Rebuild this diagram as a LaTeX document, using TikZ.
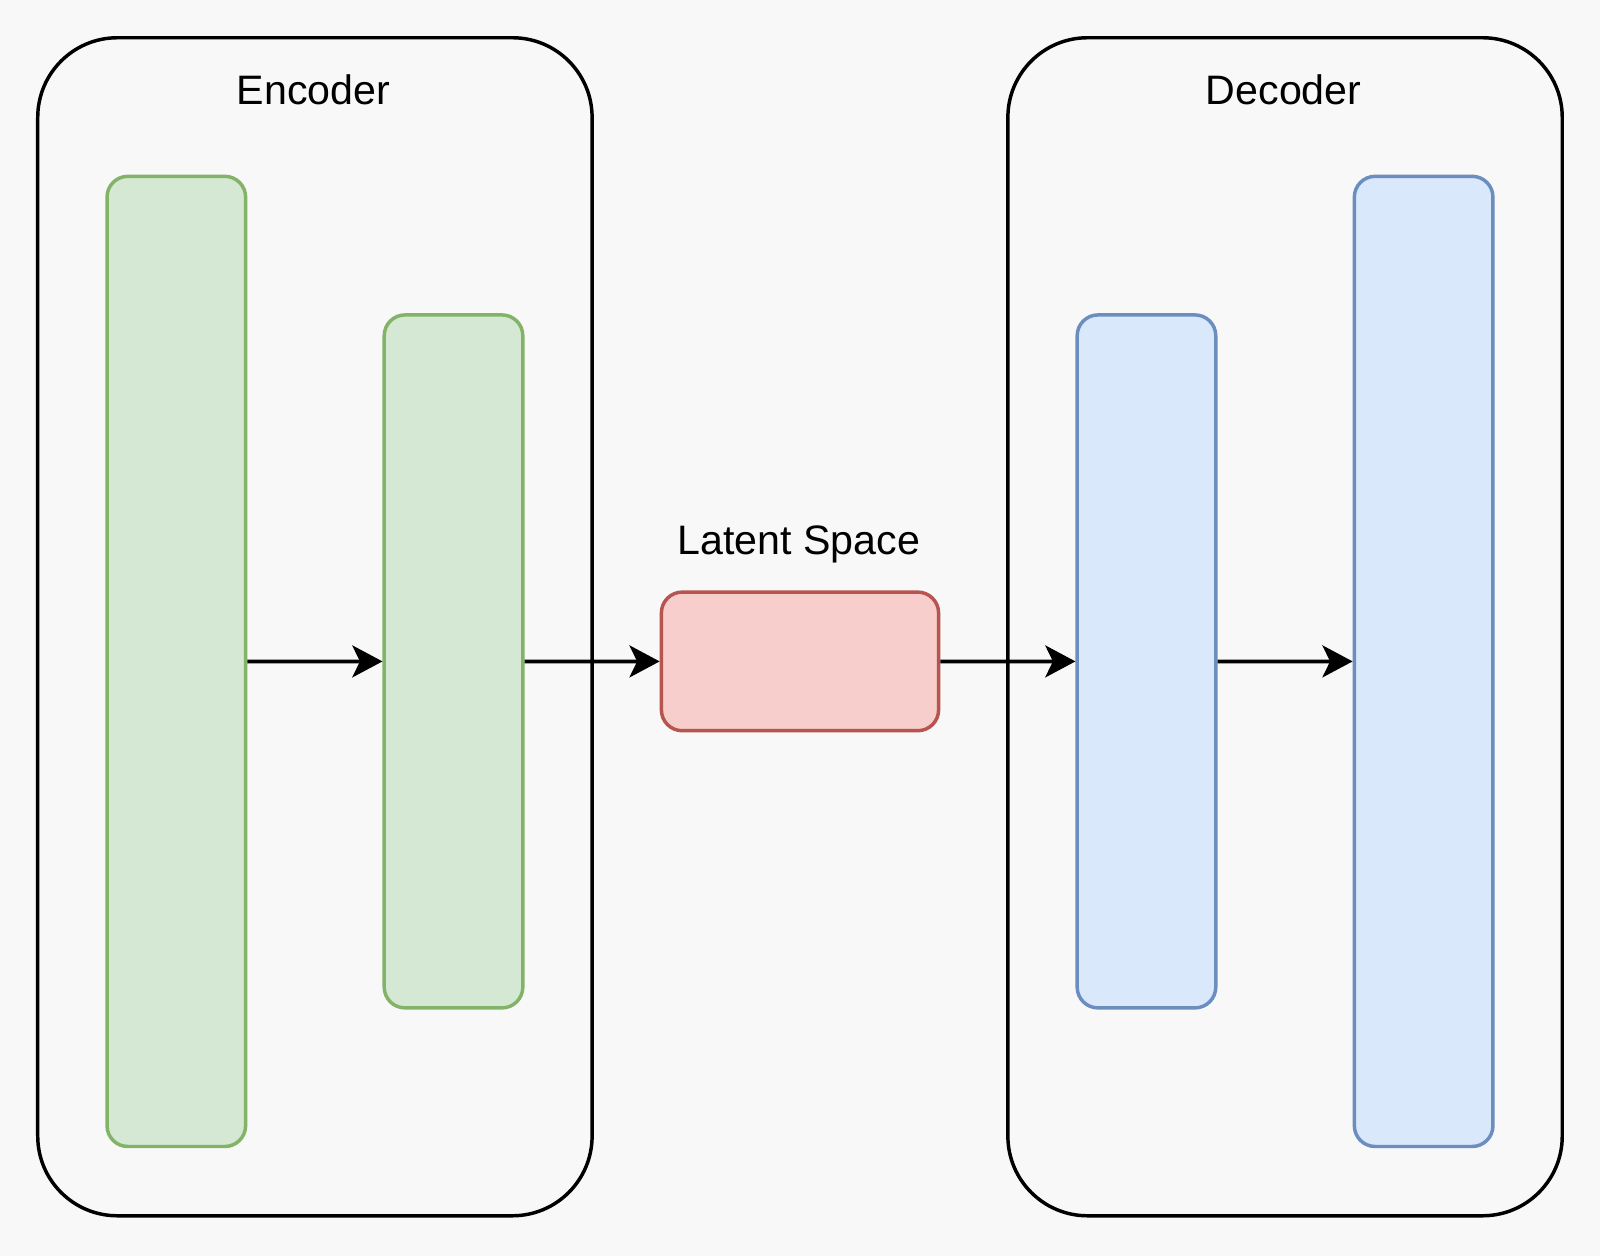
\documentclass[tikz,border=0pt]{standalone}
\usepackage{fontspec}
\setmainfont{Liberation Sans}
\usetikzlibrary{arrows.meta}
\definecolor{bg}{HTML}{F8F8F8}
\definecolor{gfill}{HTML}{D5E8D4}
\definecolor{gline}{HTML}{82B366}
\definecolor{rfill}{HTML}{F8CECC}
\definecolor{rline}{HTML}{B85450}
\definecolor{bfill}{HTML}{DAE8FC}
\definecolor{bline}{HTML}{6C8EBF}
\tikzset{
  container/.style={draw=black, line width=1mm, rounded corners=23mm, rectangle, inner sep=0pt,
    minimum width=160mm, minimum height=340mm, anchor=north west},
  layer/.style={rectangle, line width=1mm, rounded corners=6mm, inner sep=0pt, anchor=north west},
  glayer/.style={layer, draw=gline, fill=gfill},
  blayer/.style={layer, draw=bline, fill=bfill},
  rlayer/.style={layer, draw=rline, fill=rfill},
  lbl/.style={font=\fontsize{33.8}{41}\selectfont, anchor=base, inner sep=0pt},
  arr/.style={draw=black, line width=1.1mm, -{Stealth[length=8.7mm, width=9.2mm, inset=2.2mm]}}
}
\begin{document}
\begin{tikzpicture}[x=1mm, y=-1mm]
\fill[bg] (-0.39,-0.39) rectangle (461.4,362.1);
\useasboundingbox (-0.39,-0.39) rectangle (461.4,362.1);
\node[container] (enc) at (10,10) {};
\node[container] (dec) at (290,10) {};
\node[lbl] (enclbl) at (90.1,29.7) {Encoder};
\node[lbl] (declbl) at (370.1,29.7) {Decoder};
\node[glayer, minimum width=40mm, minimum height=280mm] (g1) at (30,50) {};
\node[glayer, minimum width=40mm, minimum height=200mm] (g2) at (110,90) {};
\node[rlayer, minimum width=80mm, minimum height=40mm] (lat) at (190,170) {};
\node[blayer, minimum width=40mm, minimum height=200mm] (b1) at (310,90) {};
\node[blayer, minimum width=40mm, minimum height=280mm] (b2) at (390,50) {};
\node[lbl] (latlbl) at (230.2,159.7) {Latent Space};
\draw[arr] (g1.east) -- (g2.west);
\draw[arr] (g2.east) -- (lat.west);
\draw[arr] (lat.east) -- (b1.west);
\draw[arr] (b1.east) -- (b2.west);
\end{tikzpicture}
\end{document}
